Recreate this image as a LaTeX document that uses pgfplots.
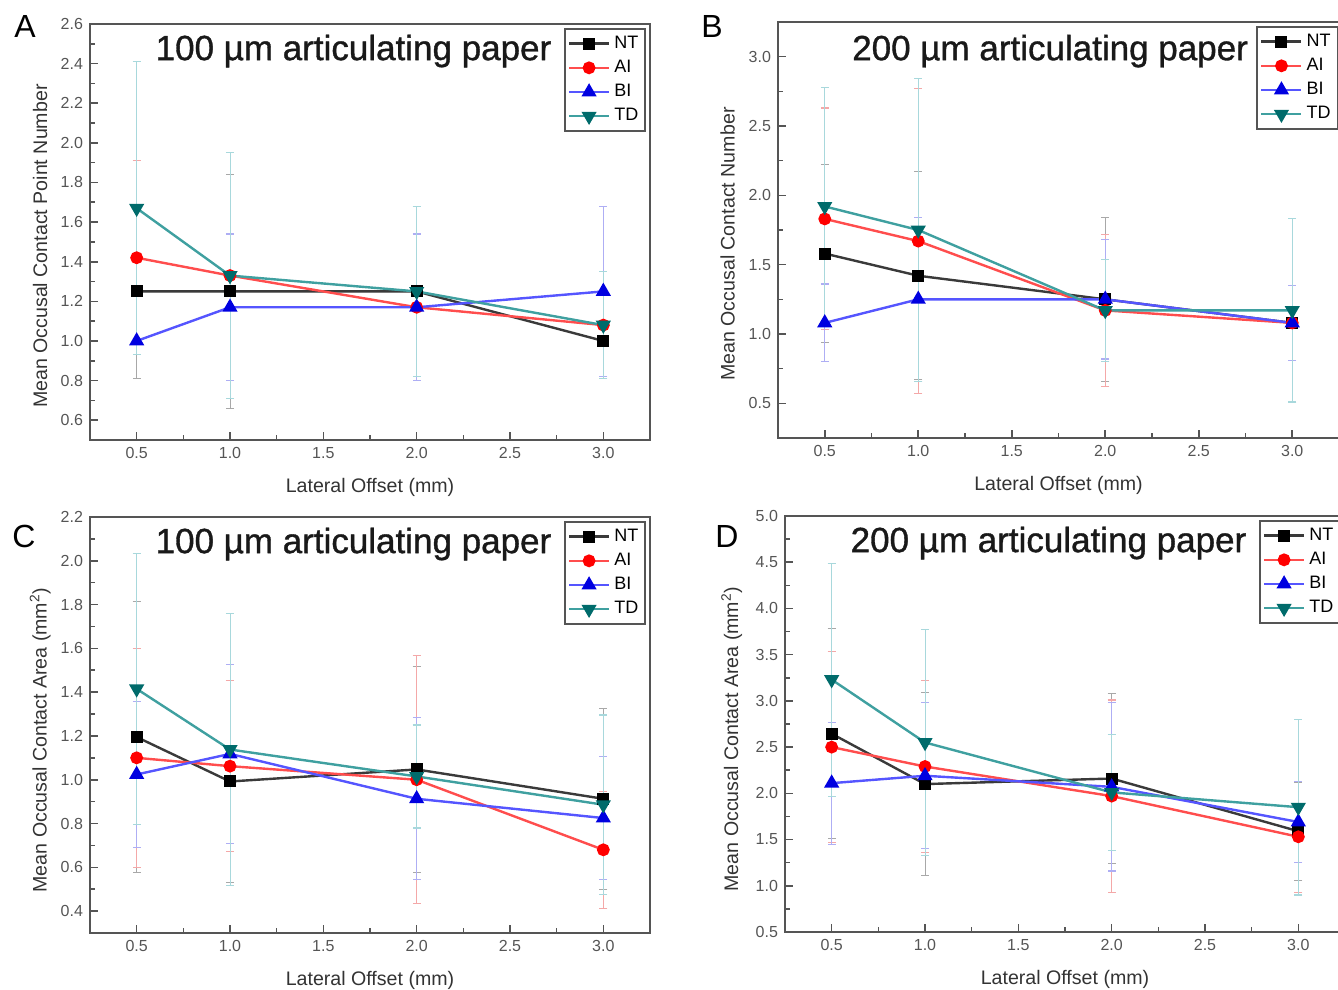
\documentclass[border=0pt]{standalone}
\usepackage{fontspec}
\setmainfont{Liberation Sans}
\newfontfamily\titlefont[FakeBold=1]{Liberation Sans}
\usepackage{pgfplots}
\pgfplotsset{compat=1.18}
\usepackage{pgfplotstable}

\definecolor{axisgray}{HTML}{555555}
\definecolor{tickgray}{HTML}{555555}
\definecolor{ntline}{HTML}{3A3A3A}
\definecolor{ntmark}{HTML}{000000}
\definecolor{ailine}{HTML}{FF4D4D}
\definecolor{aimark}{HTML}{FF0000}
\definecolor{biline}{HTML}{5555FF}
\definecolor{bimark}{HTML}{0000E0}
\definecolor{tdline}{HTML}{3FA0A0}
\definecolor{tdmark}{HTML}{006B6B}
\definecolor{ebNT}{HTML}{A8A8A8}
\definecolor{ebAI}{HTML}{F4A8A8}
\definecolor{ebBI}{HTML}{AEAEF4}
\definecolor{ebTD}{HTML}{A8D8DC}

% x  mean / sd per group
\pgfplotstableread{
x   NT    eNT   AI    eAI   BI    eBI   TD    eTD
0.5 1.25  0.44  1.42  0.49  1.00  0.00  1.67  0.74
1.0 1.25  0.59  1.33  0.00  1.17  0.37  1.33  0.62
2.0 1.25  0.00  1.17  0.00  1.17  0.37  1.25  0.43
3.0 1.00  0.00  1.08  0.00  1.25  0.43  1.08  0.27
}\dataA
\pgfplotstableread{
x   NT    eNT   AI    eAI   BI    eBI   TD    eTD
0.5 1.58  0.64  1.83  0.80  1.08  0.28  1.92  0.86
1.0 1.42  0.75  1.67  1.10  1.25  0.59  1.75  1.09
2.0 1.25  0.59  1.17  0.55  1.25  0.43  1.17  0.37
3.0 1.08  0.00  1.08  0.00  1.08  0.27  1.17  0.66
}\dataB
\pgfplotstableread{
x   NT    eNT   AI    eAI   BI    eBI   TD    eTD
0.5 1.195 0.62  1.10  0.50  1.024 0.335 1.415 0.62
1.0 0.992 0.46  1.062 0.39  1.118 0.41  1.138 0.62
2.0 1.047 0.47  1.00  0.567 0.913 0.37  1.015 0.235
3.0 0.913 0.414 0.68  0.267 0.825 0.28  0.886 0.41
}\dataC
\pgfplotstableread{
x   NT    eNT   AI    eAI   BI    eBI   TD    eTD
0.5 2.645 1.135 2.50  1.03  2.11  0.66  3.23  1.26
1.0 2.10  0.99  2.29  0.93  2.19  0.79  2.55  1.22
2.0 2.16  0.92  1.97  1.04  2.07  0.91  2.01  0.63
3.0 1.59  0.53  1.53  0.60  1.69  0.44  1.85  0.95
}\dataD

\tikzset{ptitle/.style={font=\titlefont\fontsize{17.5}{18}\selectfont, text=black!90}}

\pgfplotsset{
  panel/.style={
    scale only axis, width=280pt, height=208pt, anchor=south west,
    xmin=0.25, xmax=3.25, xtick={0.5,1.0,1.5,2.0,2.5,3.0}, minor x tick num=1,
    tick align=inside, xtick pos=lower, ytick pos=left,
    major tick length=4pt, minor tick length=2.5pt,
    axis line style={draw=axisgray, line width=1pt},
    tick style={draw=axisgray, line width=0.8pt},
    ticklabel style={font=\fontsize{8}{9}\selectfont, text=tickgray},
    /pgf/number format/assume math mode=true,
    /pgf/number format/fixed, /pgf/number format/fixed zerofill,
    /pgf/number format/precision=1,
    xlabel={Lateral Offset (mm)},
    label style={font=\fontsize{9.8}{11}\selectfont, text=black!80},
    xlabel style={at={(axis description cs:0.5,0)}, anchor=center, yshift=-23.5pt},
    legend style={at={(0.993,0.99)}, anchor=north east, draw=axisgray, line width=0.8pt,
      font=\fontsize{9}{10}\selectfont, inner sep=1.5pt, row sep=0.4pt, cells={anchor=west}},
    legend image code/.code={\draw[mark repeat=2, mark phase=2, ##1] plot coordinates {(0pt,0pt) (10pt,0pt) (20pt,0pt)};},
  },
  eb/.style={forget plot, color=#1, mark=none, line width=0.6pt,
    error bars/.cd, y dir=both, y explicit,
    error mark options={rotate=90, mark size=2pt, color=#1, line width=0.6pt}},
  sNT/.style={color=ntline, line width=1.2pt, mark=square*, mark size=2.4pt, mark options={draw=ntmark, fill=ntmark}},
  sAI/.style={color=ailine, line width=1.2pt, mark=*, mark size=2.6pt, mark options={draw=aimark, fill=aimark}},
  sBI/.style={color=biline, line width=1.2pt, mark=triangle*, mark size=3.2pt, mark options={draw=bimark, fill=bimark}},
  sTD/.style={color=tdline, line width=1.2pt, mark=triangle*, mark size=3.2pt, mark options={draw=tdmark, fill=tdmark, rotate=180}},
}

\newcommand{\panelplots}[1]{%
  \addplot[eb=ebNT] table[x=x, y=NT, y error=eNT] {#1};
  \addplot[eb=ebAI] table[x=x, y=AI, y error=eAI] {#1};
  \addplot[eb=ebBI] table[x=x, y=BI, y error=eBI] {#1};
  \addplot[eb=ebTD] table[x=x, y=TD, y error=eTD] {#1};
  \addplot[sNT] table[x=x, y=NT] {#1};
  \addplot[sAI] table[x=x, y=AI] {#1};
  \addplot[sBI] table[x=x, y=BI] {#1};
  \addplot[sTD] table[x=x, y=TD] {#1};
  \legend{NT, AI, BI, TD}
}

\begin{document}
\begin{tikzpicture}
\useasboundingbox (0,0) rectangle (669pt,495pt);
\clip (0,0) rectangle (669pt,495pt);

% A
\begin{axis}[panel, at={(45pt,275pt)},
  ymin=0.5, ymax=2.6, ytick={0.6,0.8,1.0,1.2,1.4,1.6,1.8,2.0,2.2,2.4,2.6}, minor y tick num=1,
  ylabel={Mean Occusal Contact Point Number},
  ylabel style={at={(axis description cs:-0.089,0.466)}, anchor=center}]
  \panelplots{\dataA}
  \node[ptitle] at (axis description cs:0.4705,0.935) {100 µm articulating paper};
\end{axis}

% B
\begin{axis}[panel, at={(389pt,276pt)}, width=280.5pt,
  ymin=0.25, ymax=3.25, ytick={0.5,1.0,1.5,2.0,2.5,3.0}, minor y tick num=1,
  ylabel={Mean Occusal Contact Number},
  ylabel style={at={(axis description cs:-0.0896,0.466)}, anchor=center},
  legend style={at={(0.999,0.99)}}]
  \panelplots{\dataB}
  \node[ptitle] at (axis description cs:0.485,0.93) {200 µm articulating paper};
\end{axis}

% C
\begin{axis}[panel, at={(45pt,28.5pt)},
  ymin=0.3, ymax=2.2, ytick={0.4,0.6,0.8,1.0,1.2,1.4,1.6,1.8,2.0,2.2}, minor y tick num=1,
  ylabel={Mean Occusal Contact Area (mm\textsuperscript{2})},
  ylabel style={at={(axis description cs:-0.089,0.464)}, anchor=center}]
  \panelplots{\dataC}
  \node[ptitle] at (axis description cs:0.4705,0.935) {100 µm articulating paper};
\end{axis}

% D
\begin{axis}[panel, at={(392.5pt,29pt)},
  ymin=0.5, ymax=5.0, ytick={0.5,1.0,1.5,2.0,2.5,3.0,3.5,4.0,4.5,5.0}, minor y tick num=1,
  ylabel={Mean Occusal Contact Area (mm\textsuperscript{2})},
  ylabel style={at={(axis description cs:-0.095,0.464)}, anchor=center}]
  \panelplots{\dataD}
  \node[ptitle] at (axis description cs:0.4705,0.935) {200 µm articulating paper};
\end{axis}

\node[font=\fontsize{16}{16}\selectfont] at (12.5pt,481.5pt) {A};
\node[font=\fontsize{16}{16}\selectfont] at (356pt,481.5pt) {B};
\node[font=\fontsize{16}{16}\selectfont] at (12pt,227pt) {C};
\node[font=\fontsize{16}{16}\selectfont] at (363.5pt,227pt) {D};
\end{tikzpicture}
\end{document}
